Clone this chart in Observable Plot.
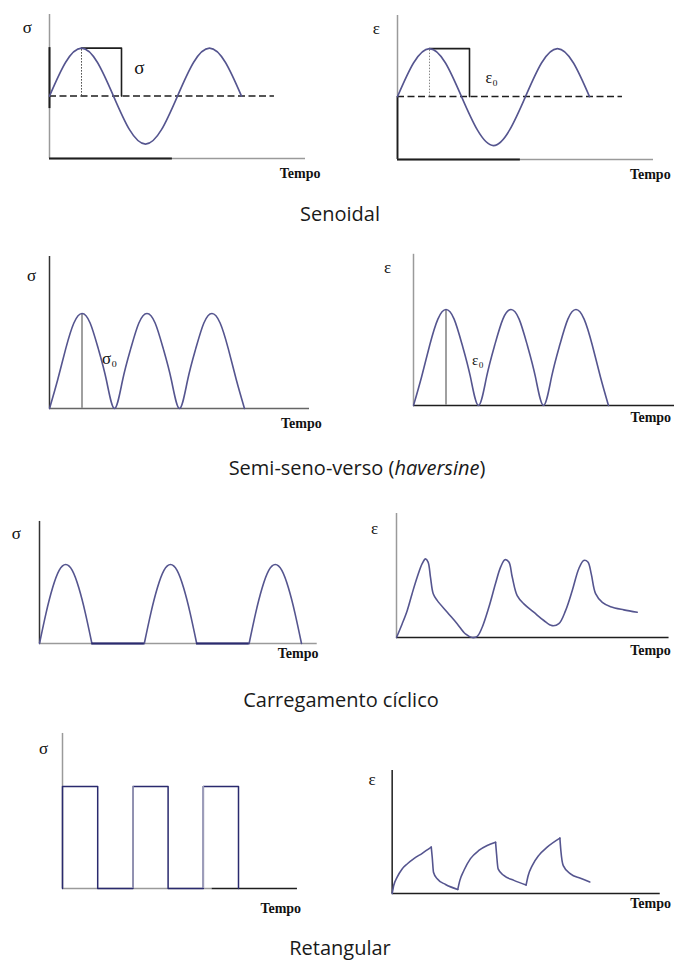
<!DOCTYPE html>
<html>
<head>
<meta charset="utf-8">
<script src="https://cdn.jsdelivr.net/npm/d3@7"></script>
<script src="https://cdn.jsdelivr.net/npm/@observablehq/plot@0.6"></script>
<style>
  html, body { margin: 0; padding: 0; background: #fff; }
  #fig { position: relative; width: 674px; height: 963px; background: #fff; overflow: hidden; }
  .cap { position: absolute; font-family: 'Open Sans', 'Noto Sans', sans-serif; font-size: 20px; line-height: 20px; color: #1a1a1a; white-space: nowrap; transform: translateX(-50%); }
</style>
</head>
<body>
<div id="fig">
  <div class="cap" style="left:340px; top:204px;">Senoidal</div>
  <div class="cap" style="left:357px; top:458px;">Semi-seno-verso (<i>haversine</i>)</div>
  <div class="cap" style="left:341px; top:690px;">Carregamento cíclico</div>
  <div class="cap" style="left:340px; top:938px;">Retangular</div>
</div>
<script>
// ---------- data ----------
// Senoidal (sine) — time in quarter-periods
const sinT     = [0, 0.5, 1, 1.5, 2, 2.5, 3, 3.5, 4, 4.5, 5, 5.5, 6];
const sinSigma = [1.3, 2.0, 2.3, 2.0, 1.3, 0.6, 0.3, 0.6, 1.3, 2.0, 2.3, 2.0, 1.3];
const sinEps   = [1.31, 2.01, 2.31, 2.01, 1.31, 0.61, 0.29, 0.61, 1.31, 2.01, 2.31, 2.01, 1.31];
const sinMeanSigma = 1.3, sinPeakSigma = 2.3, sinMeanEps = 1.31, sinPeakEps = 2.31;
const sinBoxT = [1, 2.25, 2.25];

// Semi-seno-verso (haversine)
const havT = [0,0.25,0.5,0.75,1,1.25,1.5,1.75,2,2.25,2.5,2.75,3,3.25,3.5,3.75,4,4.25,4.5,4.75,5,5.25,5.5,5.75,6];
const havSigma = [0,0.6,1.26,1.8,2,1.8,1.26,0.6,0,0.6,1.26,1.8,2,1.8,1.26,0.6,0,0.6,1.26,1.8,2,1.8,1.26,0.6,0];
const havEps   = [0,0.6,1.26,1.8,2,1.8,1.26,0.6,0,0.6,1.26,1.8,2,1.8,1.26,0.6,0,0.6,1.26,1.8,2,1.8,1.26,0.6,0];
const havPeak = 2;

// Carregamento cíclico
const cycT = [0,0.25,0.5,0.75,1,1.25,1.5,1.75,2, 4,4.25,4.5,4.75,5,5.25,5.5,5.75,6, 8,8.25,8.5,8.75,9,9.25,9.5,9.75,10];
const cycSigma = [0,0.77,1.41,1.85,2,1.85,1.41,0.77,0, 0,0.77,1.41,1.85,2,1.85,1.41,0.77,0, 0,0.77,1.41,1.85,2,1.85,1.41,0.77,0];
const cycEpsT = [0,0.29,0.54,0.79,1.05,1.30,1.47,1.60,1.72,1.86,2.06,2.57,3.07,3.49,3.83,4.09,4.34,4.68,5.01,5.27,5.49,5.69,5.86,6.11,6.45,6.95,7.46,7.88,8.22,8.56,8.90,9.23,9.48,9.69,9.86,10.08,10.42,10.84,11.51,12.19];
const cycEps  = [0,0.35,0.68,1.11,1.53,1.87,1.99,1.91,1.53,1.11,0.94,0.64,0.35,0.09,0,0.03,0.26,0.77,1.36,1.78,1.97,1.91,1.53,1.06,0.85,0.64,0.43,0.30,0.35,0.68,1.19,1.74,1.95,1.91,1.61,1.11,0.89,0.78,0.70,0.64];

// Retangular
const rectT = [0, 0, 2, 4, 6, 8, 10];
const rectSigma = [0, 2, 0, 2, 0, 2, 0];
const rectRiseT = [4, 8];
const rectEpsT = [0,0.10,0.31,0.62,0.93,1.35,1.87,2.43, 2.49,2.57,2.80,3.32,4.08, 4.21,4.46,4.87,5.39,5.91,6.43, 6.49,6.59,6.94,7.57,8.33, 8.46,8.71,9.12,9.64,10.43, 10.49,10.64,11.09,11.71,12.29];
const rectEps  = [0,0.20,0.40,0.60,0.72,0.85,0.98,1.13, 0.89,0.52,0.36,0.22,0.10, 0.32,0.56,0.85,1.05,1.17,1.25, 0.97,0.60,0.44,0.32,0.21, 0.44,0.68,0.93,1.13,1.35, 1.05,0.68,0.48,0.37,0.28];

// ---------- helpers ----------
const CURVE = "#55558f";
const NAVY = "#2a2a6e";
const DARK = "#1e1e1e";
const GRAY = "#9a9a9a";
const SERIF = "'Liberation Serif','Times New Roman',serif";
const fig = document.getElementById("fig");
const zip = (ts, vs) => ts.map((t, i) => ({t, v: vs[i]}));

// split a polyline into pieces at its local minima / maxima (sharp corners)
function pieces(rows, kind) {
  const out = [];
  let seg = 0;
  rows.forEach((r, i) => {
    out.push({...r, seg});
    if (i > 0 && i < rows.length - 1) {
      const a = Math.sign(r.v - rows[i - 1].v), b = Math.sign(rows[i + 1].v - r.v);
      const isMin = a <= 0 && b >= 0 && a !== b;
      const isMax = a >= 0 && b <= 0 && a !== b;
      if ((kind !== "max" && isMin) || (kind !== "min" && isMax)) {
        seg++;
        out.push({...r, seg});
      }
    }
  });
  return out;
}

function label(t, v, text, opts = {}) {
  return Plot.text([{t, v, text}], {x: "t", y: "v", text: "text", fill: "#111",
    fontFamily: SERIF, fontSize: 17, textAnchor: "middle", lineAnchor: "middle", ...opts});
}
function tempo(t, v) {
  return label(t, v, "Tempo", {fontSize: 14, fontWeight: "bold"});
}

function panel({left, top, width, height, ox, oy, kx, ky, xmax, ymax, marks}) {
  const svg = Plot.plot({
    width, height, margin: 0,
    x: {type: "linear", domain: [0, xmax], range: [ox, ox + kx * xmax], axis: null},
    y: {type: "linear", domain: [0, ymax], range: [oy, oy - ky * ymax], axis: null},
    style: {background: "transparent", overflow: "visible"},
    marks
  });
  svg.style.position = "absolute";
  svg.style.left = left + "px";
  svg.style.top = top + "px";
  fig.appendChild(svg);
}

// ---------- Row 1: Senoidal ----------
panel({left: 0, top: 0, width: 337, height: 195, ox: 49, oy: 158, kx: 32, ky: 48, xmax: 8, ymax: 3,
  marks: [
    Plot.ruleX([0], {y1: 0, y2: 3, stroke: GRAY, strokeWidth: 1.5}),
    Plot.ruleX([0], {y1: 1.04, y2: 2.31, stroke: DARK, strokeWidth: 2}),
    Plot.ruleY([0], {x1: 0, x2: 8, stroke: GRAY, strokeWidth: 1.5}),
    Plot.ruleY([0], {x1: 0, x2: 3.84, stroke: DARK, strokeWidth: 1.8}),
    Plot.ruleY([sinMeanSigma], {x1: 0, x2: 7.03, stroke: DARK, strokeWidth: 1.5, strokeDasharray: "7,3.5"}),
    Plot.ruleX([1], {y1: sinMeanSigma, y2: sinPeakSigma, stroke: "#444", strokeWidth: 1, strokeDasharray: "1.5,1.5"}),
    Plot.line(sinBoxT.map((t, i) => ({t, v: i < 2 ? sinPeakSigma : sinMeanSigma})), {x: "t", y: "v", stroke: DARK, strokeWidth: 1.6, curve: "step-before"}),
    Plot.line(zip(sinT, sinSigma), {x: "t", y: "v", stroke: CURVE, strokeWidth: 1.6, curve: "natural"}),
    label(-0.69, 2.73, "σ"),
    label(2.81, 1.885, "σ", {fontSize: 19}),
    tempo(7.83, -0.31)
  ]});

panel({left: 337, top: 0, width: 337, height: 195, ox: 60, oy: 159, kx: 32, ky: 48, xmax: 8, ymax: 3,
  marks: [
    Plot.ruleX([0], {y1: 0, y2: 3, stroke: GRAY, strokeWidth: 1.5}),
    Plot.ruleX([0], {y1: 0, y2: 1.31, stroke: DARK, strokeWidth: 1.8}),
    Plot.ruleY([0], {x1: 0, x2: 8, stroke: GRAY, strokeWidth: 1.5}),
    Plot.ruleY([0], {x1: 0, x2: 3.84, stroke: DARK, strokeWidth: 1.8}),
    Plot.ruleY([sinMeanEps], {x1: 0, x2: 7.03, stroke: DARK, strokeWidth: 1.5, strokeDasharray: "7,3.5"}),
    Plot.ruleX([1], {y1: sinMeanEps, y2: sinPeakEps, stroke: "#888", strokeWidth: 1, strokeDasharray: "1.5,1.5"}),
    Plot.line(sinBoxT.map((t, i) => ({t, v: i < 2 ? sinPeakEps : sinMeanEps})), {x: "t", y: "v", stroke: DARK, strokeWidth: 1.6, curve: "step-before"}),
    Plot.line(zip(sinT, sinEps), {x: "t", y: "v", stroke: CURVE, strokeWidth: 1.6, curve: "natural"}),
    label(-0.66, 2.73, "ε"),
    label(2.94, 1.70, "ε₀", {fontSize: 16}),
    tempo(7.9, -0.31)
  ]});

// ---------- Row 2: Haversine ----------
panel({left: 0, top: 245, width: 337, height: 195, ox: 49, oy: 163, kx: 32.5, ky: 47.5, xmax: 8, ymax: 3.2,
  marks: [
    Plot.ruleX([0], {y1: 0, y2: 3.2, stroke: "#333", strokeWidth: 1.5}),
    Plot.ruleY([0], {x1: 0, x2: 8, stroke: "#666", strokeWidth: 1.5}),
    Plot.ruleX([1], {y1: 0, y2: havPeak, stroke: "#a0a0a0", strokeWidth: 2}),
    Plot.line(zip(havT, havSigma), {x: "t", y: "v", stroke: CURVE, strokeWidth: 1.6, curve: "natural"}),
    label(-0.55, 2.8, "σ"),
    label(1.85, 1.05, "σ₀", {fontSize: 17}),
    tempo(7.75, -0.32)
  ]});

panel({left: 337, top: 245, width: 337, height: 195, ox: 76, oy: 160, kx: 32.5, ky: 48, xmax: 8.2, ymax: 3.15,
  marks: [
    Plot.ruleX([0], {y1: 0, y2: 3.15, stroke: GRAY, strokeWidth: 1.5}),
    Plot.ruleY([0], {x1: 0, x2: 8.2, stroke: DARK, strokeWidth: 1.6}),
    Plot.ruleX([1], {y1: 0, y2: havPeak, stroke: "#a0a0a0", strokeWidth: 2}),
    Plot.line(zip(havT, havEps), {x: "t", y: "v", stroke: CURVE, strokeWidth: 1.6, curve: "natural"}),
    label(-0.8, 2.875, "ε"),
    label(1.98, 0.94, "ε₀", {fontSize: 15}),
    tempo(7.3, -0.25)
  ]});

// ---------- Row 3: Carregamento cíclico ----------
panel({left: 0, top: 500, width: 337, height: 175, ox: 39, oy: 143, kx: 26.2, ky: 39.5, xmax: 10.6, ymax: 3.09,
  marks: [
    Plot.ruleX([0], {y1: 0, y2: 3.09, stroke: "#333", strokeWidth: 1.5}),
    Plot.ruleY([0], {x1: 0, x2: 10.6, stroke: GRAY, strokeWidth: 1.5}),
    Plot.line(pieces(zip(cycT, cycSigma), "min"), {x: "t", y: "v", z: "seg", stroke: CURVE, strokeWidth: 1.6, curve: "natural"}),
    Plot.ruleY([0], {x1: 2, x2: 4, stroke: NAVY, strokeWidth: 1.8}),
    Plot.ruleY([0], {x1: 6, x2: 8, stroke: NAVY, strokeWidth: 1.8}),
    label(-0.88, 2.78, "σ"),
    tempo(9.87, -0.25)
  ]});

panel({left: 337, top: 500, width: 337, height: 175, ox: 59, oy: 137, kx: 19.75, ky: 39.5, xmax: 13.8, ymax: 3.14,
  marks: [
    Plot.ruleX([0], {y1: 0, y2: 3.14, stroke: GRAY, strokeWidth: 1.5}),
    Plot.ruleY([0], {x1: 0, x2: 13.8, stroke: DARK, strokeWidth: 1.6}),
    Plot.line(zip(cycEpsT, cycEps), {x: "t", y: "v", stroke: CURVE, strokeWidth: 1.6, curve: "catmull-rom"}),
    label(-1.11, 2.76, "ε"),
    tempo(12.86, -0.33)
  ]});

// ---------- Row 4: Retangular ----------
panel({left: 0, top: 720, width: 337, height: 205, ox: 62, oy: 168, kx: 17.6, ky: 51, xmax: 13.35, ymax: 3.04,
  marks: [
    Plot.ruleX([0], {y1: 0, y2: 3.04, stroke: GRAY, strokeWidth: 1.5}),
    Plot.ruleY([0], {x1: 0, x2: 8.5, stroke: GRAY, strokeWidth: 1.5}),
    Plot.ruleY([0], {x1: 8.5, x2: 13.35, stroke: DARK, strokeWidth: 1.6}),
    Plot.line(zip(rectT, rectSigma), {x: "t", y: "v", stroke: NAVY, strokeWidth: 1.5, curve: "step-after"}),
    Plot.ruleX(rectRiseT, {y1: 0, y2: 2, stroke: "#9c9cb8", strokeWidth: 1.6}),
    label(-1.08, 2.75, "σ"),
    tempo(12.4, -0.39)
  ]});

panel({left: 337, top: 720, width: 337, height: 205, ox: 54.67, oy: 173, kx: 16.08, ky: 41, xmax: 16.67, ymax: 3,
  marks: [
    Plot.ruleX([0], {y1: 0, y2: 3, stroke: DARK, strokeWidth: 1.5}),
    Plot.ruleY([0], {x1: 0, x2: 16.67, stroke: DARK, strokeWidth: 1.6}),
    Plot.line(pieces(zip(rectEpsT, rectEps), "both"), {x: "t", y: "v", z: "seg", stroke: CURVE, strokeWidth: 1.6, curve: "monotone-x"}),
    label(-1.25, 2.78, "ε"),
    tempo(16.07, -0.24)
  ]});
</script>
</body>
</html>
